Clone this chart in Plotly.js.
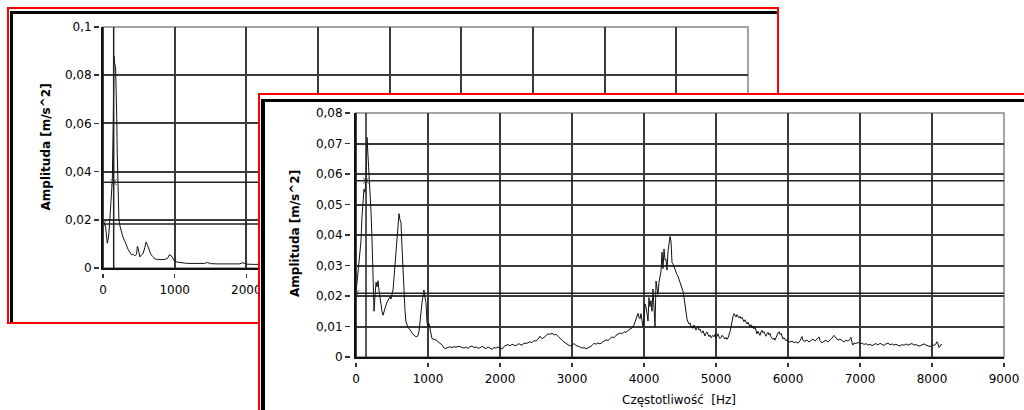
<!DOCTYPE html>
<html><head><meta charset="utf-8">
<script src="https://cdn.plot.ly/plotly-3.0.1.min.js"></script>
<style>
html,body{margin:0;padding:0;background:#fff;width:1024px;height:410px;overflow:hidden;}
.abs{position:absolute;}
</style></head><body>
<div id="back" class="abs" style="left:0;top:0;width:1024px;height:410px;"></div>
<div class="abs" style="left:7px;top:7px;width:768px;height:313px;border:2px solid #f00;"></div>
<div class="abs" style="left:10px;top:11px;width:767px;height:3px;background:#000;"></div>
<div class="abs" style="left:10px;top:11px;width:3px;height:311px;background:#000;"></div>
<div id="front" class="abs" style="left:258px;top:93px;width:766px;height:317px;background:#fff;"></div>
<div class="abs" style="left:258px;top:93px;width:766px;height:2px;background:#f00;"></div>
<div class="abs" style="left:258px;top:93px;width:2px;height:317px;background:#f00;"></div>
<div class="abs" style="left:261px;top:99px;width:763px;height:3px;background:#000;"></div>
<div class="abs" style="left:261px;top:99px;width:4px;height:311px;background:#000;"></div>
<script>
// ---------- data ----------
var xTitle = "Częstotliwość\u00a0 [Hz]";
var yTitle = "Amplituda [m/s^2]";

// back window spectrum [Hz, amplitude]
var backSpectrum = [
[0,0.0186],[18,0.019],[37,0.017],[50,0.0125],[60,0.0103],[72,0.012],[83,0.0145],[95,0.02],[106,0.0254],
[118,0.031],[130,0.0365],[143,0.061],[153,0.088],[162,0.085],[176,0.083],[185,0.075],[192,0.062],[199,0.0475],
[208,0.032],[222,0.02],[240,0.017],[259,0.0145],[282,0.0125],[306,0.011],[329,0.009],[352,0.0076],[375,0.0065],
[398,0.0055],[421,0.0056],[444,0.005],[468,0.0058],[480,0.009],[491,0.0082],[503,0.0055],[514,0.0046],[537,0.0055],
[560,0.006],[583,0.0085],[602,0.0108],[620,0.0095],[648,0.0068],[671,0.0055],[694,0.0048],[720,0.0038],[764,0.0035],
[810,0.0036],[856,0.0035],[900,0.004],[926,0.0055],[950,0.0052],[975,0.004],[1000,0.0028],[1046,0.0024],[1092,0.0021],
[1150,0.002],[1200,0.0019],[1278,0.002],[1330,0.0018],[1380,0.0021],[1417,0.0019],[1460,0.0023],[1500,0.0018],
[1600,0.0017],[1700,0.0016],[1800,0.0016],[1900,0.0017],[1950,0.0022],[2000,0.0016],[2100,0.0015],[2200,0.0015],
[2500,0.002],[2700,0.003],[3000,0.0015],[3500,0.002],[4000,0.005],[4350,0.012],[4600,0.004],[5300,0.004],
[6000,0.002],[7000,0.0015],[8150,0.0013]
];
// back window cursors [Hz, amplitude]
var backCursors = [[149,0.0356],[0,0.0183]];
// frequency labels visible on the back window (the rest lies under the front window)
var backXLabels = [0, 1000, 2000];

// front window spectrum [Hz, amplitude]
var frontSpectrum = [
[0,0.021],[14,0.024],[28,0.029],[42,0.031],[56,0.033],[69,0.038],[83,0.046],[97,0.05],[111,0.055],[125,0.054],
[139,0.058],[153,0.072],[167,0.066],[181,0.06],[194,0.057],[208,0.048],[222,0.039],[236,0.024],[250,0.015],
[264,0.02],[278,0.0245],[292,0.023],[306,0.025],[319,0.022],[333,0.019],[347,0.016],[361,0.015],[375,0.0137],
[389,0.015],[403,0.0165],[417,0.017],[431,0.018],[444,0.0185],[458,0.019],[472,0.0197],[486,0.019],[500,0.021],
[514,0.022],[528,0.026],[542,0.03],[556,0.034],[569,0.039],[583,0.043],[597,0.047],[611,0.045],[625,0.044],
[639,0.036],[653,0.028],[667,0.021],[681,0.015],[694,0.0115],[708,0.0105],[722,0.0098],[736,0.0093],[750,0.009],
[764,0.0085],[778,0.0078],[792,0.0075],[806,0.0072],[819,0.0068],[833,0.0066],[847,0.0067],[861,0.007],[875,0.0085],
[889,0.011],[903,0.0147],[917,0.018],[931,0.02],[944,0.022],[958,0.0195],[972,0.018],[986,0.0115],[1000,0.0098],
[1014,0.011],[1028,0.009],[1042,0.0075],[1056,0.006],[1083,0.0058],[1111,0.0056],[1139,0.005],[1167,0.0046],
[1194,0.004],[1222,0.003],[1250,0.0028],[1278,0.0032],[1306,0.0033],[1333,0.0031],[1361,0.0034],[1389,0.0032],
[1417,0.0035],[1444,0.0034],[1472,0.0031],[1500,0.0029],[1528,0.0033],[1556,0.0028],[1583,0.0034],[1611,0.0036],
[1639,0.0031],[1667,0.0033],[1694,0.0029],[1722,0.003],[1750,0.0035],[1778,0.0031],[1806,0.0027],[1833,0.0033],
[1861,0.0029],[1889,0.0025],[1917,0.0031],[1944,0.0029],[1972,0.0033],[2000,0.003],[2028,0.0026],[2056,0.0035],
[2083,0.0038],[2111,0.0041],[2139,0.0036],[2167,0.0042],[2194,0.0039],[2222,0.0037],[2250,0.0043],[2278,0.0042],
[2306,0.0038],[2333,0.0046],[2361,0.0044],[2389,0.0048],[2417,0.005],[2444,0.0047],[2472,0.0054],[2500,0.0052],
[2528,0.0058],[2556,0.0068],[2583,0.006],[2611,0.0064],[2639,0.0071],[2667,0.0076],[2694,0.0074],[2722,0.0078],
[2750,0.0072],[2778,0.0075],[2806,0.0068],[2833,0.006],[2861,0.0055],[2889,0.0049],[2917,0.0045],[2944,0.004],
[2972,0.0036],[3000,0.0039],[3028,0.0044],[3056,0.0038],[3083,0.0036],[3111,0.0033],[3139,0.0029],[3167,0.0031],
[3194,0.0027],[3222,0.0029],[3250,0.0033],[3278,0.0038],[3306,0.0045],[3333,0.0042],[3361,0.0046],[3389,0.0043],
[3417,0.0049],[3444,0.0052],[3472,0.0056],[3500,0.0054],[3528,0.006],[3556,0.0066],[3583,0.0063],[3611,0.0071],
[3639,0.0075],[3667,0.0079],[3694,0.0076],[3722,0.0083],[3750,0.0081],[3778,0.0087],[3806,0.0092],[3833,0.0095],
[3861,0.0105],[3875,0.0115],[3889,0.0125],[3903,0.0135],[3917,0.0143],[3931,0.013],[3944,0.0125],[3958,0.0142],
[3972,0.0118],[3986,0.01],[4000,0.0125],[4014,0.0174],[4028,0.0165],[4042,0.0145],[4056,0.0118],[4069,0.0195],
[4083,0.0165],[4097,0.0185],[4111,0.015],[4125,0.0223],[4139,0.017],[4153,0.01],[4167,0.0249],[4181,0.022],
[4194,0.0205],[4208,0.0245],[4222,0.0262],[4236,0.028],[4250,0.0344],[4264,0.029],[4278,0.0354],[4292,0.0318],
[4306,0.032],[4319,0.0285],[4333,0.0345],[4347,0.037],[4361,0.0395],[4375,0.038],[4389,0.031],[4403,0.0305],
[4417,0.0295],[4431,0.029],[4444,0.0278],[4458,0.027],[4472,0.0265],[4486,0.0255],[4500,0.0248],[4514,0.024],
[4528,0.0225],[4542,0.0215],[4556,0.0195],[4569,0.017],[4583,0.0145],[4597,0.0125],[4611,0.0115],[4625,0.0108],
[4639,0.0112],[4653,0.0098],[4667,0.0102],[4681,0.0094],[4694,0.0105],[4708,0.0097],[4722,0.0088],[4736,0.0095],
[4750,0.0101],[4764,0.0088],[4778,0.0092],[4792,0.0083],[4806,0.0079],[4819,0.0086],[4833,0.0075],[4847,0.0069],
[4861,0.0078],[4875,0.0082],[4889,0.0074],[4903,0.0067],[4917,0.0072],[4931,0.0063],[4944,0.0068],[4958,0.0071],
[4972,0.0066],[4986,0.0074],[5000,0.0062],[5014,0.0069],[5028,0.0076],[5042,0.0066],[5056,0.006],[5069,0.0064],
[5083,0.0071],[5097,0.0068],[5111,0.0063],[5125,0.0059],[5139,0.0064],[5153,0.0058],[5167,0.0063],[5181,0.0072],
[5194,0.0083],[5208,0.0098],[5222,0.0118],[5236,0.0133],[5250,0.0142],[5264,0.0137],[5278,0.0131],[5292,0.0139],
[5306,0.0134],[5319,0.0128],[5333,0.0133],[5347,0.0126],[5361,0.013],[5375,0.0121],[5389,0.0116],[5403,0.0122],
[5417,0.0113],[5431,0.0108],[5444,0.0114],[5458,0.0104],[5472,0.0099],[5486,0.0106],[5500,0.0096],[5514,0.0102],
[5528,0.0092],[5542,0.0098],[5556,0.0087],[5569,0.0076],[5583,0.0084],[5597,0.0079],[5611,0.0071],[5625,0.0082],
[5639,0.0088],[5653,0.0079],[5667,0.0083],[5681,0.0074],[5694,0.0068],[5708,0.0076],[5722,0.0081],[5736,0.0072],
[5750,0.0077],[5764,0.0066],[5778,0.0061],[5792,0.0058],[5806,0.0062],[5819,0.0055],[5833,0.0063],[5847,0.0072],
[5861,0.0079],[5875,0.0083],[5889,0.0074],[5903,0.0078],[5917,0.0065],[5931,0.0059],[5944,0.0063],[5958,0.0056],
[5972,0.0053],[5986,0.0057],[6000,0.0051],[6028,0.0049],[6056,0.0052],[6083,0.0047],[6111,0.005],[6139,0.0045],
[6167,0.0053],[6181,0.0061],[6194,0.0067],[6208,0.0055],[6236,0.0051],[6264,0.0056],[6292,0.0049],[6319,0.0054],
[6347,0.0059],[6375,0.0052],[6403,0.0061],[6431,0.0066],[6444,0.0054],[6472,0.0046],[6500,0.0052],[6528,0.0055],
[6556,0.0049],[6583,0.0054],[6611,0.0062],[6639,0.0071],[6667,0.0063],[6694,0.0055],[6722,0.0059],[6750,0.0053],
[6778,0.0049],[6806,0.0055],[6833,0.0052],[6861,0.0058],[6875,0.0064],[6889,0.0047],[6903,0.0039],[6917,0.0046],
[6944,0.0044],[6972,0.0048],[7000,0.0043],[7028,0.0046],[7056,0.0041],[7083,0.0044],[7111,0.0039],[7139,0.0042],
[7167,0.0037],[7194,0.0041],[7222,0.0044],[7250,0.0039],[7278,0.0045],[7306,0.0041],[7333,0.0038],[7361,0.0043],
[7389,0.0046],[7417,0.004],[7444,0.0043],[7472,0.0039],[7500,0.0042],[7528,0.0038],[7556,0.0036],[7583,0.0041],
[7611,0.0038],[7639,0.0043],[7667,0.0039],[7694,0.0042],[7722,0.0044],[7750,0.0039],[7778,0.0041],[7806,0.0037],
[7833,0.0036],[7861,0.004],[7889,0.0043],[7917,0.0039],[7944,0.0036],[7972,0.0034],[8000,0.004],[8028,0.0038],
[8056,0.0043],[8069,0.005],[8083,0.0044],[8097,0.0031],[8111,0.0035],[8125,0.0041],[8139,0.004]
];
// front window cursors [Hz, amplitude]
var frontCursors = [[139,0.0578],[0,0.0209]];
var frontXLabels = [0, 1000, 2000, 3000, 4000, 5000, 6000, 7000, 8000, 9000];

var backYRange = [0, 0.1], backYStep = 0.02;
var frontYRange = [0, 0.08], frontYStep = 0.01;
var xRange = [0, 9000], xStep = 1000;

// ---------- drawing ----------
var FONT = {family: 'DejaVu Sans, Verdana, sans-serif', size: 12, color: '#000'};
var GRID = '#3a3a3a';

function col(a, i) { return a.map(function (p) { return p[i]; }); }

function makePanel(divId, W, H, box, spectrum, cursors, yRange, yStep, xLabels, yTitlePos, xTitlePos) {
  var xd = [box.l / W, box.r / W];
  var yd = [1 - box.b / H, 1 - box.t / H];
  var traces = [
    {x: col(spectrum, 0), y: col(spectrum, 1), type: 'scatter', mode: 'lines',
     line: {color: '#111', width: 1}, hoverinfo: 'skip', xaxis: 'x', yaxis: 'y'},
    {x: col(cursors, 0), y: col(cursors, 1), type: 'scatter', mode: 'markers',
     marker: {symbol: 'x-thin', size: 6, line: {color: '#555', width: 1}}, hoverinfo: 'skip',
     xaxis: 'x2', yaxis: 'y2'}
  ];
  var shapes = [
    {type: 'rect', xref: 'x domain', yref: 'y domain', x0: 0, x1: 1, y0: 0, y1: 1,
     line: {color: '#888', width: 1.5}, layer: 'below'}
  ];
  cursors.forEach(function (c) {
    shapes.push({type: 'line', xref: 'x', yref: 'y domain', x0: c[0], x1: c[0], y0: 0, y1: 1,
                 line: {color: '#222', width: 1.5}});
    shapes.push({type: 'line', xref: 'x domain', yref: 'y', x0: 0, x1: 1, y0: c[1], y1: c[1],
                 line: {color: '#222', width: 1.5}});
  });
  var annotations = [
    {text: '<b>' + yTitle + '</b>', xref: 'paper', yref: 'paper', x: yTitlePos[0] / W, y: 1 - yTitlePos[1] / H,
     xanchor: 'center', yanchor: 'middle', textangle: -90, showarrow: false,
     font: {family: FONT.family, size: 12, color: '#000'}}
  ];
  if (xTitlePos) {
    annotations.push({text: xTitle, xref: 'paper', yref: 'paper', x: xTitlePos[0] / W, y: 1 - xTitlePos[1] / H,
       xanchor: 'center', yanchor: 'middle', showarrow: false,
       font: {family: FONT.family, size: 12, color: '#000'}});
  }
  var layout = {
    width: W, height: H, margin: {l: 0, r: 0, t: 0, b: 0, pad: 0},
    paper_bgcolor: '#fff', plot_bgcolor: '#fff', showlegend: false,
    separators: ',.', font: FONT,
    xaxis: {domain: xd, range: xRange, dtick: xStep, tick0: 0, showgrid: true, gridcolor: GRID, gridwidth: 2,
            showticklabels: false, ticks: '', showline: true, linecolor: '#111', linewidth: 2,
            zeroline: false, fixedrange: true},
    yaxis: {domain: yd, range: yRange, dtick: yStep, tick0: 0, showgrid: true, gridcolor: GRID, gridwidth: 2,
            showticklabels: false, ticks: '', showline: true, linecolor: '#111', linewidth: 2,
            zeroline: false, fixedrange: true},
    xaxis2: {overlaying: 'x', anchor: 'free', position: 1 - box.xTick / H, side: 'bottom',
             range: xRange, tickmode: 'array', tickvals: xLabels, ticks: 'outside', ticklen: 4, tickwidth: 1.5,
             tickcolor: '#333', showgrid: false, showline: false, zeroline: false, tickfont: FONT,
             ticklabelstandoff: box.xStand, fixedrange: true},
    yaxis2: {overlaying: 'y', anchor: 'free', position: box.yTick / W, side: 'left',
             range: yRange, dtick: yStep, tick0: 0, ticks: 'outside', ticklen: 5, tickwidth: 1.5,
             tickcolor: '#333', showgrid: false, showline: false, zeroline: false, tickfont: FONT,
             ticklabelstandoff: box.yStand, fixedrange: true},
    shapes: shapes,
    annotations: annotations
  };
  Plotly.newPlot(divId, traces, layout, {staticPlot: true, displayModeBar: false});
}

makePanel('back', 1024, 410,
  {l: 103, r: 748, t: 27, b: 268, xTick: 272.5, yTick: 99, xStand: 2, yStand: 0},
  backSpectrum, backCursors, backYRange, backYStep, backXLabels, [45, 147.5], null);

makePanel('front', 766, 317,
  {l: 98, r: 746, t: 20, b: 264, xTick: 268.5, yTick: 92, xStand: 2, yStand: 0},
  frontSpectrum, frontCursors, frontYRange, frontYStep, frontXLabels, [37, 141], [421, 307]);
</script>
</body></html>
